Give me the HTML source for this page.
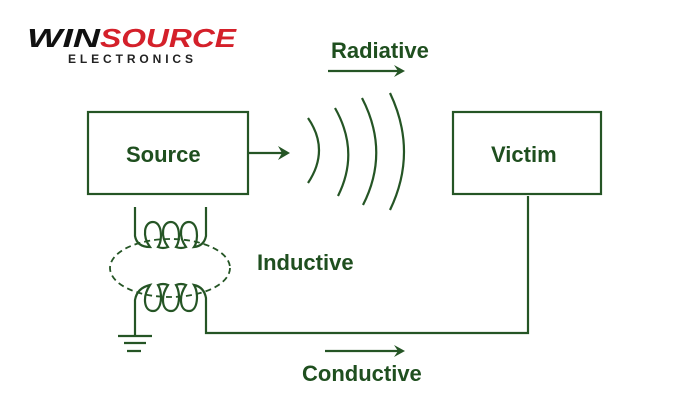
<!DOCTYPE html>
<html><head><style>body{margin:0;background:#fff;width:700px;height:400px;overflow:hidden}</style></head><body>
<svg width="700" height="400" xmlns="http://www.w3.org/2000/svg" font-family="Liberation Sans, sans-serif">
<g font-style="italic" font-weight="bold">
<text x="27" y="47" font-size="26" fill="#111" textLength="73" lengthAdjust="spacingAndGlyphs">WIN</text>
<text x="100" y="47" font-size="26" fill="#d4202a" textLength="136" lengthAdjust="spacingAndGlyphs">SOURCE</text>
</g>
<text x="68" y="63" font-size="12" font-weight="bold" fill="#222" letter-spacing="3" textLength="128" lengthAdjust="spacing">ELECTRONICS</text>
<g stroke="#255525" stroke-width="2.2" fill="none">
<rect x="88" y="112" width="160" height="82"/>
<rect x="453" y="112" width="148" height="82"/>
<path d="M248 153 H284"/>
<path d="M328 71 H400"/>
<path d="M325 351 H400"/>
<path d="M308 118 Q330 150 308 183"/>
<path d="M335 108 Q360 152 338 196"/>
<path d="M362 98 Q390 152 363 205"/>
<path d="M390 93 Q418 152 390 210"/>
<path d="M135 207 V236 Q137 247 150 247 C142 236 144 222 153 222 C162 222 163 240 158 247 Q163 249 168 247 C160 236 162 222 171 222 C180 222 181 240 176 247 Q181 249 186 247 C178 236 180 222 189 222 C198 222 199 240 194 247 Q204 246 206 236 V207"/>
<path d="M135 335 V300 Q137 288 150 285 C142 297 144 311 153 311 C162 311 163 293 158 285 Q163 283 168 285 C160 297 162 311 171 311 C180 311 181 293 176 285 Q181 283 186 285 C178 297 180 311 189 311 C198 311 199 293 194 285 Q204 287 206 298 V333 H528 V196"/>
<ellipse cx="170" cy="268" rx="60" ry="29" stroke-dasharray="6 4" stroke-width="1.8"/>
<path d="M118 336 H152 M124 343 H146 M127 351 H141"/>
</g>
<g fill="#255525">
<path d="M278 146 L290 153 L278 160 L282 153Z"/>
<path d="M394 65 L405 71 L394 77 L398 71Z"/>
<path d="M394 345 L405 351 L394 357 L398 351Z"/>
</g>
<g fill="#1f4f1f" font-weight="bold" font-size="22">
<text x="331" y="58">Radiative</text>
<text x="126" y="162">Source</text>
<text x="491" y="162">Victim</text>
<text x="257" y="270">Inductive</text>
<text x="302" y="381">Conductive</text>
</g>
</svg>
</body></html>
